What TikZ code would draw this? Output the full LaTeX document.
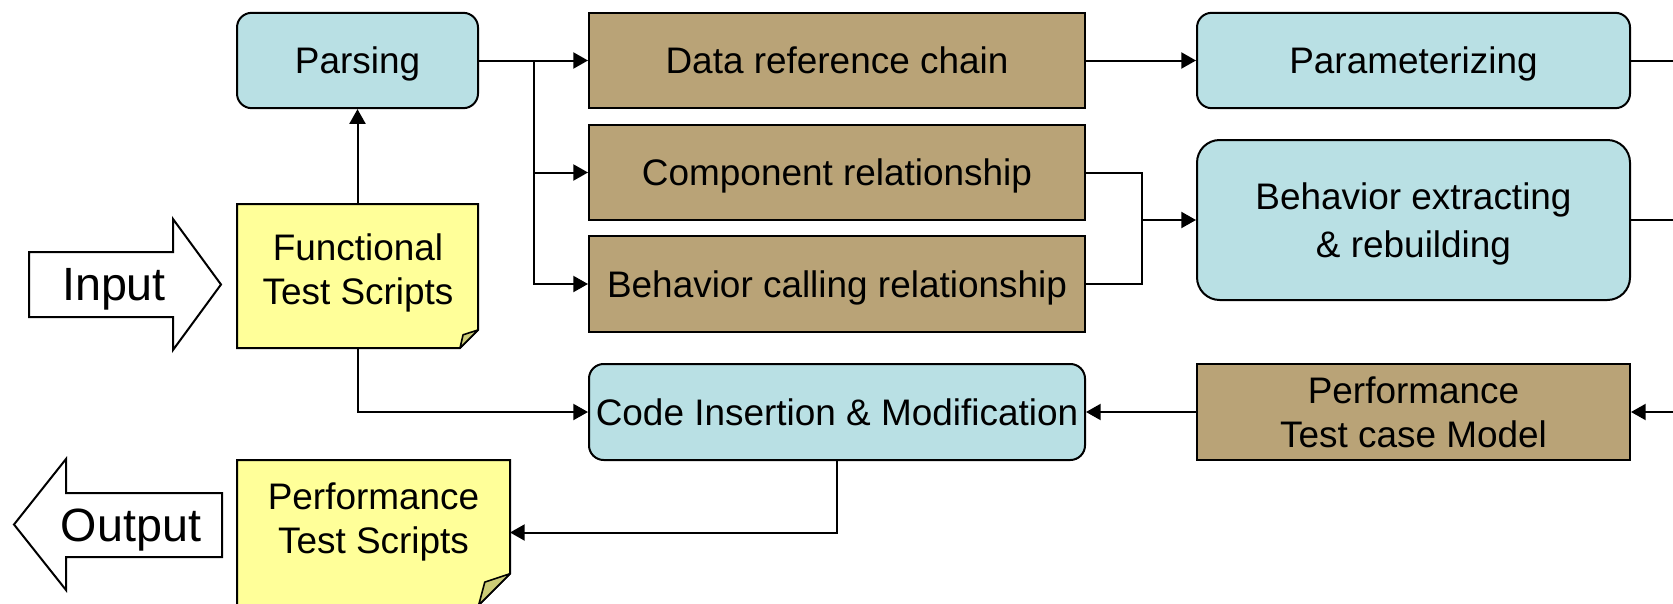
\documentclass[tikz,border=0pt]{standalone}
\usepackage{fontspec}
\setmainfont{Liberation Sans}
\usetikzlibrary{arrows.meta}
\definecolor{procblue}{RGB}{185,224,228}
\definecolor{databrown}{RGB}{185,163,119}
\definecolor{noteyellow}{RGB}{255,255,153}
\definecolor{curlolive}{RGB}{204,204,119}
\begin{document}
\begin{tikzpicture}[x=0.75pt,y=-0.75pt,line width=1.5pt,
  every node/.style={font=\fontsize{27.7}{33}\selectfont,align=center,inner sep=1pt},
  oneline/.style={text height=19.8pt,text depth=0pt},
  proc/.style={draw,fill=procblue,rounded corners=11pt,minimum height=71.5pt},
  datab/.style={draw,fill=databrown,minimum height=71.5pt},
  midcol/.style={minimum width=372pt},
  rcol/.style={minimum width=324.75pt},
  arr/.style={-{Triangle[length=11pt,width=12pt]}},
  notearea/.style={outer sep=0pt,minimum width=180.75pt,minimum height=108pt},
  notebox/.style={draw,fill=noteyellow},
  curl/.style={draw,fill=curlolive,line join=round,line width=1.2pt},
  bigarrow/.style={draw,fill=white},
  bigtext/.style={font=\fontsize{35}{40}\selectfont,inner sep=0pt}]
\useasboundingbox (0,0) rectangle (1673,603);

% process and data boxes
\node[proc,oneline,minimum width=180.75pt] (parsing) at (357.5,60.5) {Parsing};
\node[datab,oneline,midcol] (dataref) at (837,60.5) {Data reference chain};
\node[proc,oneline,rcol] (param) at (1413.5,60.5) {Parameterizing};
\node[datab,oneline,midcol] (comp) at (837,172.5) {Component relationship};
\node[datab,oneline,midcol,minimum height=72pt] (call) at (837,284) {Behavior calling relationship};
\node[proc,rcol,minimum height=120pt,rounded corners=17pt,
  font=\fontsize{27.7}{35.5}\selectfont,text depth=0pt] (behav) at (1413.5,220) {Behavior extracting\\\& rebuilding};
\node[proc,oneline,midcol,minimum height=72pt] (code) at (837,412) {Code Insertion \& Modification};
\node[datab,rcol,minimum height=72pt] (model) at (1413.5,412) {Performance\\Test case Model};

% script documents with a curled corner
\node[notearea] (fts) at (357.5,276) {};
\node[notearea,minimum width=204.75pt,minimum height=108.75pt] (pts) at (373.5,532.5) {};
\draw[notebox] (fts.north west) -- (fts.north east) -- ([yshift=13.5pt]fts.south east)
  -- ([xshift=-13.5pt]fts.south east) -- (fts.south west) -- cycle;
\draw[curl] ([yshift=13.5pt]fts.south east) -- ([xshift=-11.2pt,yshift=9.9pt]fts.south east)
  -- ([xshift=-13.5pt]fts.south east) -- cycle;
\draw[notebox] (pts.north west) -- (pts.north east) -- ([yshift=23.5pt]pts.south east)
  -- ([xshift=-23.5pt]pts.south east) -- (pts.south west) -- cycle;
\draw[curl] ([yshift=23.5pt]pts.south east) -- ([xshift=-18.9pt,yshift=17.2pt]pts.south east)
  -- ([xshift=-23.5pt]pts.south east) -- cycle;
\node (ftstext) at (358,273) {Functional\\Test Scripts};
\node (ptstext) at (373.5,522) {Performance\\Test Scripts};

% input and output block arrows
\draw[bigarrow] (29,252) -- (173,252) -- (173,219) -- (221,284.5) -- (173,350) -- (173,317) -- (29,317) -- cycle;
\node[bigtext] (inlabel) at (114,289.5) {Input};
\draw[bigarrow] (14,524.5) -- (66,459) -- (66,493) -- (222,493) -- (222,557) -- (66,557) -- (66,590) -- cycle;
\node[bigtext] (outlabel) at (131,530) {Output};

% connectors
\coordinate (split) at (533.5,60.5);
\coordinate (merge) at (1141.5,220);
\coordinate (edgeA) at (1673,60.5);
\coordinate (edgeB) at (1673,220);
\coordinate (edgeC) at (1673,412);
\draw[arr] (parsing.east) -- (dataref.west);
\draw[arr] (split) |- (comp.west);
\draw[arr] (split) |- (call.west);
\draw[arr] (dataref.east) -- (param.west);
\draw (param.east) -- (edgeA);
\draw (comp.east) -| (merge);
\draw (call.east) -| (merge);
\draw[arr] (merge) -- (behav.west);
\draw (behav.east) -- (edgeB);
\draw[arr] (edgeC) -- (model.east);
\draw[arr] (model.west) -- (code.east);
\draw[arr] (fts.north) -- (parsing.south);
\draw[arr] (fts.south) |- (code.west);
\draw[arr] (code.south) |- (pts.east);
\end{tikzpicture}
\end{document}
